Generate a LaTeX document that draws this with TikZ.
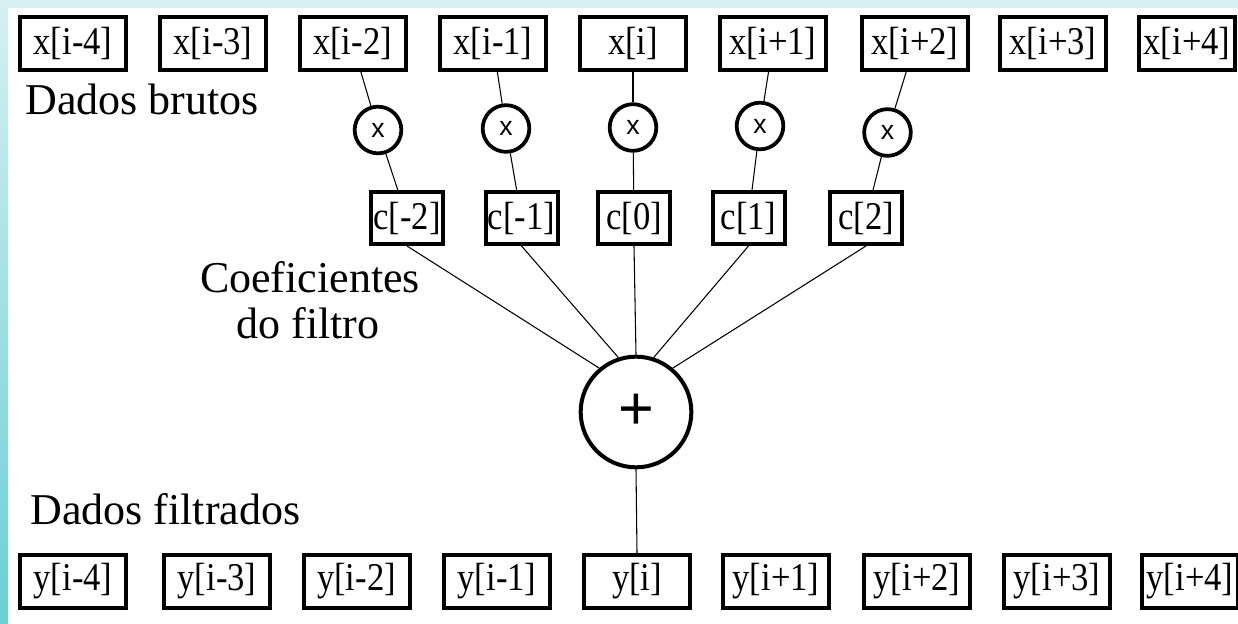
\documentclass[tikz,border=0pt]{standalone}
\usepackage{fontspec}
\setmainfont{Liberation Serif}
\newfontfamily\sansfam{Liberation Sans}
\newfontfamily\boxfam[FakeStretch=0.88]{Liberation Serif}
\begin{document}
\begin{tikzpicture}[x=0.75pt,y=-0.75pt,
  databox/.style={draw, line width=3pt, inner sep=0pt, minimum width=79.5pt, minimum height=39.75pt, font=\boxfam\fontsize{29.5}{32}\selectfont},
  coefbox/.style={draw, line width=3pt, inner sep=0pt, minimum width=54pt, minimum height=39pt, font=\boxfam\fontsize{29.5}{32}\selectfont},
  multnode/.style={draw, circle, line width=2.8pt, inner sep=0pt, minimum size=35pt, font=\sansfam\fontsize{20}{22}\selectfont},
  sumnode/.style={draw, circle, line width=3pt, inner sep=0pt, minimum size=83pt, font=\sansfam\fontsize{46}{50}\selectfont},
  label/.style={inner sep=0pt, font=\fontsize{33}{36}\selectfont},
  wire/.style={line width=0.8pt}
]
\useasboundingbox (0,0) rectangle (1238,624);
\fill[white] (0,0) rectangle (1238,624);
\fill[color={rgb,255:red,214;green,240;blue,241}] (0,0) rectangle (1238,8);
\shade[top color={rgb,255:red,214;green,240;blue,241}, bottom color={rgb,255:red,104;green,208;blue,212}] (0,0) rectangle (8,624);

% top row
\node[databox] (xm4) at (73,43.5) {x[i-4]};
\node[databox] (xm3) at (213,43.5) {x[i-3]};
\node[databox] (xm2) at (352.5,43.5) {x[i-2]};
\node[databox] (xm1) at (493,43.5) {x[i-1]};
\node[databox] (x0) at (633,43.5) {x[i]};
\node[databox] (xp1) at (773,43.5) {x[i+1]};
\node[databox] (xp2) at (915,43.5) {x[i+2]};
\node[databox] (xp3) at (1053,43.5) {x[i+3]};
\node[databox, minimum width=72pt] (xp4) at (1187,43.5) {x[i+4]};

\node[label, anchor=base west] (brutos) at (25,115) {Dados brutos};

% multipliers
\node[multnode] (m1) at (378,130) {x};
\node[multnode] (m2) at (506,128.5) {x};
\node[multnode] (m3) at (633,127.5) {x};
\node[multnode] (m4) at (760,126) {x};
\node[multnode] (m5) at (887.5,132.5) {x};

% coefficients
\node[coefbox] (cm2) at (407,218) {c[-2]};
\node[coefbox] (cm1) at (521.5,218) {c[-1]};
\node[coefbox] (c0) at (634,218) {c[0]};
\node[coefbox] (cp1) at (748.5,218) {c[1]};
\node[coefbox] (cp2) at (866,218) {c[2]};

\node[label, anchor=base] (coef1) at (310,292) {Coeficientes};
\node[label, anchor=base] (coef2) at (308,338) {do filtro};

% sum
\node[sumnode] (sum) at (636,412) {+};

\node[label, anchor=base west] (filtrados) at (30,524) {Dados filtrados};

% bottom row
\node[databox] (ym4) at (73,581.5) {y[i-4]};
\node[databox] (ym3) at (217,581.5) {y[i-3]};
\node[databox] (ym2) at (356.5,581.5) {y[i-2]};
\node[databox] (ym1) at (497,581.5) {y[i-1]};
\node[databox] (y0) at (637,581.5) {y[i]};
\node[databox] (yp1) at (776,581.5) {y[i+1]};
\node[databox] (yp2) at (917,581.5) {y[i+2]};
\node[databox] (yp3) at (1057,581.5) {y[i+3]};
\node[databox, minimum width=72pt] (yp4) at (1190,581.5) {y[i+4]};

% connectors
\draw[wire] (xm2) -- (m1);
\draw[wire] (xm1) -- (m2);
\draw[wire] (x0) -- (m3);
\draw[wire] (xp1) -- (m4);
\draw[wire] (xp2) -- (m5);
\draw[wire] (m1) -- (cm2);
\draw[wire] (m2) -- (cm1);
\draw[wire] (m3) -- (c0);
\draw[wire] (m4) -- (cp1);
\draw[wire] (m5) -- (cp2);
\draw[wire] (cm2.south) -- (sum.130);
\draw[wire] (cm1.south) -- (sum.108);
\draw[wire] (c0.south) -- (sum.north);
\draw[wire] (cp1.south) -- (sum.72);
\draw[wire] (cp2.south) -- (sum.50);
\draw[wire] (sum.south) -- (y0.north);
\end{tikzpicture}
\end{document}
